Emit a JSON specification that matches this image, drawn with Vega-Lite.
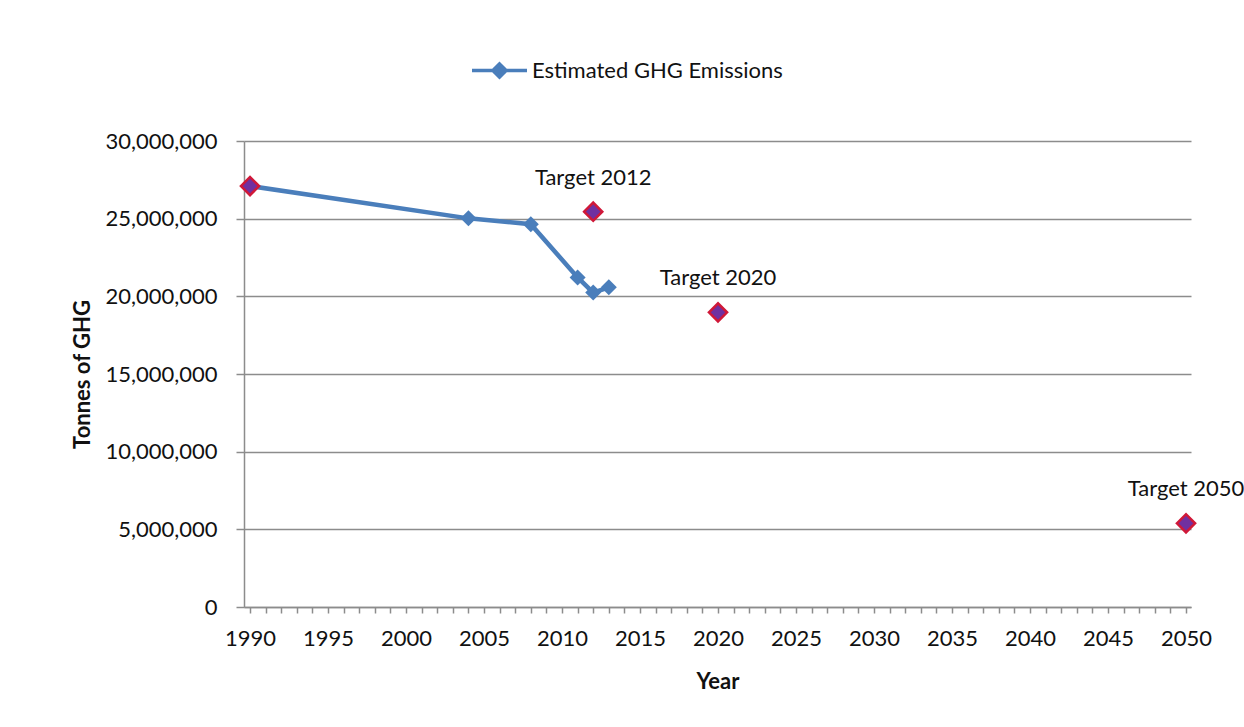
{
  "$schema": "https://vega.github.io/schema/vega-lite/v6.json",
  "width": 947,
  "height": 466,
  "autosize": {"type": "none"},
  "padding": {"left": 244, "top": 141, "right": 53, "bottom": 120},
  "background": "white",
  "config": {"view": {"stroke": null}, "font": "Lato"},
  "datasets": {
    "est": [
      {"year": 1990, "value": 27100000, "series": "Estimated GHG Emissions"},
      {"year": 2004, "value": 25020000, "series": "Estimated GHG Emissions"},
      {"year": 2008, "value": 24640000, "series": "Estimated GHG Emissions"},
      {"year": 2011, "value": 21220000, "series": "Estimated GHG Emissions"},
      {"year": 2012, "value": 20240000, "series": "Estimated GHG Emissions"},
      {"year": 2013, "value": 20580000, "series": "Estimated GHG Emissions"}
    ],
    "targets": [
      {"year": 1990, "value": 27100000, "label": ""},
      {"year": 2012, "value": 25450000, "label": "Target 2012"},
      {"year": 2020, "value": 18970000, "label": "Target 2020"},
      {"year": 2050, "value": 5390000, "label": "Target 2050"}
    ]
  },
  "encoding": {
    "x": {
      "field": "year", "type": "quantitative",
      "scale": {"domain": [1989.615, 2050.32], "nice": false, "zero": false},
      "axis": {
        "title": "Year",
        "values": [1990,1991,1992,1993,1994,1995,1996,1997,1998,1999,2000,2001,2002,2003,2004,2005,2006,2007,2008,2009,2010,2011,2012,2013,2014,2015,2016,2017,2018,2019,2020,2021,2022,2023,2024,2025,2026,2027,2028,2029,2030,2031,2032,2033,2034,2035,2036,2037,2038,2039,2040,2041,2042,2043,2044,2045,2046,2047,2048,2049,2050],
        "format": "d",
        "labelExpr": "datum.value % 5 === 0 ? datum.label : ''",
        "grid": false,
        "tickSize": 6, "tickColor": "#8c8c8c", "tickWidth": 1.5,
        "domainColor": "#8c8c8c", "domainWidth": 1.5,
        "labelFontSize": 22, "labelColor": "#111111", "labelPadding": 15,
        "labelOverlap": false, "labelFlush": false,
        "titleFontSize": 22, "titleFontWeight": "bold", "titleColor": "#111111", "titlePadding": 22
      }
    },
    "y": {
      "field": "value", "type": "quantitative",
      "scale": {"domain": [0, 30000000], "nice": false},
      "axis": {
        "title": "Tonnes of GHG",
        "values": [0, 5000000, 10000000, 15000000, 20000000, 25000000, 30000000],
        "format": ",d",
        "grid": true, "gridColor": "#8c8c8c", "gridWidth": 1.5,
        "tickSize": 8, "tickColor": "#8c8c8c", "tickWidth": 1.5,
        "domainColor": "#8c8c8c", "domainWidth": 1.5,
        "labelFontSize": 22, "labelColor": "#111111", "labelPadding": 19,
        "titleFontSize": 22, "titleFontWeight": "bold", "titleColor": "#111111", "titlePadding": 10
      }
    }
  },
  "layer": [
    {
      "data": {"name": "est"},
      "mark": {"type": "line", "strokeWidth": 4.5},
      "encoding": {
        "color": {
          "field": "series", "type": "nominal",
          "scale": {"range": ["#4A7EBB"]},
          "legend": {
            "orient": "none", "legendX": 226, "legendY": -100,
            "title": null, "padding": 0, "labelLimit": 500,
            "labelFontSize": 22, "labelColor": "#111111", "labelOffset": 3,
            "symbolType": "M-1,0L1,0M0,-0.24L0.24,0L0,0.24L-0.24,0Z",
            "symbolSize": 3025, "symbolStrokeWidth": 3.5,
            "encode": {"symbols": {"update": {"fill": {"value": "#4A7EBB"}, "stroke": {"value": "#4A7EBB"}, "opacity": {"value": 1}}}}
          }
        }
      }
    },
    {
      "data": {"name": "est"},
      "mark": {"type": "point", "shape": "diamond", "filled": true, "size": 256, "color": "#4A7EBB", "opacity": 1}
    },
    {
      "data": {"name": "targets"},
      "mark": {"type": "point", "shape": "diamond", "filled": true, "size": 330, "fill": "#7030A0", "stroke": "#D01838", "strokeWidth": 2.5, "opacity": 1}
    },
    {
      "data": {"name": "targets"},
      "mark": {"type": "text", "dy": -34, "fontSize": 22, "color": "#111111"},
      "encoding": {"text": {"field": "label", "type": "nominal"}}
    }
  ]
}
